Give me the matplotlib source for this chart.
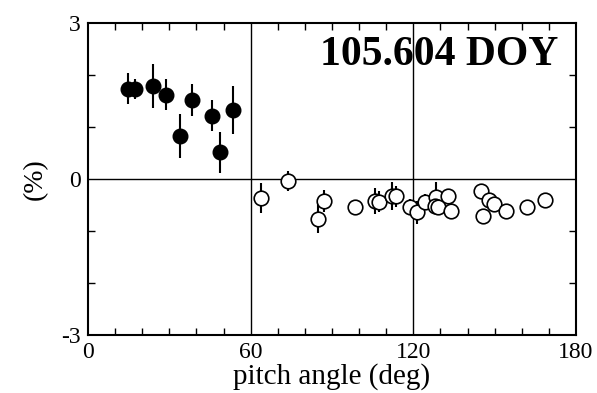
import matplotlib
matplotlib.use("Agg")
import matplotlib.pyplot as plt
import numpy as np

plt.rcParams['font.family'] = ['Liberation Serif', 'DejaVu Serif']
plt.rcParams['axes.unicode_minus'] = False

# filled points (pitch angle, value, error)
pa_fill = [14.6, 17.3, 23.8, 28.8, 34.0, 38.4, 45.9, 48.7, 53.4]
val_fill = [1.74, 1.73, 1.79, 1.62, 0.83, 1.52, 1.22, 0.51, 1.33]
err_fill = [0.29, 0.20, 0.43, 0.30, 0.42, 0.30, 0.30, 0.40, 0.46]

# open points
pa_open = [63.9, 73.6, 86.9, 84.9, 98.6, 106.0, 107.2, 112.1, 113.6, 118.9,
           121.4, 124.4, 128.4, 127.9, 129.2, 132.8, 133.9, 145.0, 145.6,
           147.8, 149.7, 154.2, 162.0, 168.5]
val_open = [-0.37, -0.04, -0.42, -0.76, -0.54, -0.42, -0.44, -0.33, -0.33, -0.54,
            -0.64, -0.44, -0.35, -0.52, -0.54, -0.32, -0.61, -0.24, -0.71,
            -0.40, -0.49, -0.62, -0.54, -0.40]
err_open = [0.29, 0.20, 0.21, 0.27, 0.08, 0.25, 0.20, 0.27, 0.20, 0.15,
            0.22, 0.15, 0.30, 0.15, 0.10, 0.10, 0.08, 0.08, 0.08,
            0.08, 0.08, 0.05, 0.05, 0.05]

fig = plt.figure(figsize=(5.97, 3.93), dpi=100)
ax = fig.add_axes([0.1474, 0.1476, 0.8174, 0.7939])

ax.axhline(0, color='k', lw=1.0, zorder=1)
ax.axvline(60, color='k', lw=1.0, zorder=1)
ax.axvline(120, color='k', lw=1.0, zorder=1)

ax.errorbar(pa_fill, val_fill, yerr=err_fill, fmt='o', color='k', ms=10.5,
            elinewidth=1.5, capsize=0, zorder=3)
ax.errorbar(pa_open, val_open, yerr=err_open, fmt='none', ecolor='k',
            elinewidth=1.5, capsize=0, zorder=3)
ax.plot(pa_open, val_open, 'o', mfc='white', mec='k', ms=10.5, mew=1.2, zorder=4)

ax.set_xlim(0, 180)
ax.set_ylim(-3, 3)
ax.set_xticks([0, 60, 120, 180])
ax.set_yticks([-3, 0, 3])
ax.set_xticks(np.arange(0, 181, 10), minor=True)
ax.set_yticks(np.arange(-3, 4, 1), minor=True)
ax.tick_params(which='both', direction='in', top=True, right=True,
               labelsize=17, width=1.0, pad=5)
ax.tick_params(which='major', length=0)
ax.tick_params(which='minor', length=5)
for s in ax.spines.values():
    s.set_linewidth(1.5)

ax.set_xlabel('pitch angle (deg)', fontsize=21, labelpad=0)
ax.set_ylabel('(%)', fontsize=20, labelpad=10)

ax.text(0.963, 0.897, '105.604 DOY', transform=ax.transAxes, ha='right',
        va='center', fontsize=30, fontweight='bold')

fig.savefig('out.png', dpi=100)
